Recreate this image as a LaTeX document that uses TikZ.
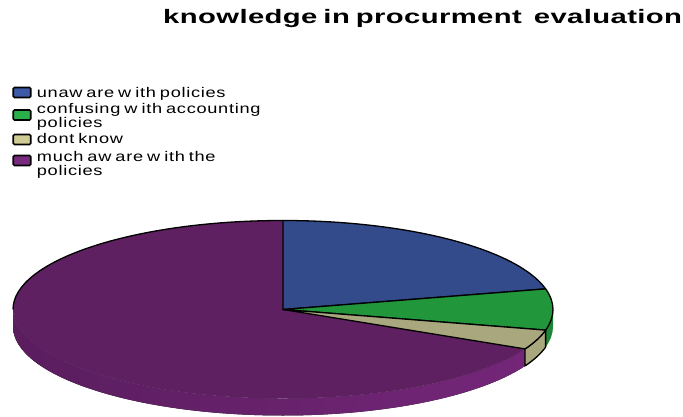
\documentclass[tikz,border=0pt]{standalone}
\usepackage{fontspec}
\setmainfont{Liberation Sans}
\newfontfamily\legfont[FakeStretch=1.3,LetterSpace=5]{Liberation Sans}
\newfontfamily\ttlfont[FakeStretch=1.5,LetterSpace=2]{Liberation Sans Bold}
\newcommand\legsetup{\legfont\fontsize{14}{12.4}\selectfont\spaceskip 4pt\relax}
\newcommand\twolines[2]{\begin{tabular}[t]{@{}l@{}}#1\\#2\end{tabular}}
\definecolor{pBlue}{HTML}{334A8B}
\definecolor{pGreen}{HTML}{22963B}
\definecolor{pGreenSide}{HTML}{1E8737}
\definecolor{pTan}{HTML}{A9A77D}
\definecolor{pPurple}{HTML}{5F2061}
\definecolor{pPurpleSide}{HTML}{742679}
\definecolor{pPurpleSideDark}{HTML}{5A1D5E}
\definecolor{lBlue}{HTML}{3C5AA8}
\definecolor{lGreen}{HTML}{2AB04A}
\definecolor{lTan}{HTML}{CFCB95}
\definecolor{lPurple}{HTML}{772A7E}
\tikzset{
  legbox/.style={draw=black, line width=1.6pt, rounded corners=1.2pt, minimum width=17.5pt, minimum height=10pt, inner sep=0pt},
  legtext/.style={anchor=base west, inner sep=0pt, font=\legsetup},
  edge/.style={draw=black, line width=1.3pt, line join=round},
}
\begin{document}
\begin{tikzpicture}[x=1pt,y=1pt]
\useasboundingbox (0,0) rectangle (683,-417);
% title
\node[anchor=base west, inner sep=0pt, font=\ttlfont\fontsize{19.5}{22}\selectfont] (title) at (163,-24)
  {knowledge\hspace{6pt}in\hspace{6pt}procurment\hspace{12pt}evaluation};
% legend
\node[legbox, fill=lBlue] (b1) at (22,-92.5) {};
\node[legtext] (t1) at (36.7,-97.3) {unaw are w ith policies};
\node[legbox, fill=lGreen] (b2) at (22,-115) {};
\node[legtext] (t2) at (36.7,-113.3) {\twolines{confusing w ith accounting}{policies}};
\node[legbox, fill=lTan] (b3) at (22,-139.5) {};
\node[legtext] (t3) at (36.7,-144) {dont know};
\node[legbox, fill=lPurple] (b4) at (22,-160.5) {};
\node[legtext] (t4) at (36.7,-161.3) {\twolines{much aw are w ith the}{policies}};
% pie
\begin{scope}[shift={(283,-309.5)}]
  % side faces
  \fill[left color=pPurpleSideDark, right color=pPurpleSide]
    (-26.3:270pt and 89pt) arc[start angle=-26.3, end angle=-180, x radius=270pt, y radius=89pt]
    -- ++(0,-17pt) arc[start angle=-180, end angle=-26.3, x radius=270pt, y radius=89pt] -- cycle;
  \fill[pGreenSide]
    (0:270pt and 89pt) arc[start angle=0, end angle=-13.4, x radius=270pt, y radius=89pt]
    -- ++(0,-17pt) arc[start angle=-13.4, end angle=0, x radius=270pt, y radius=89pt] -- cycle;
  \filldraw[fill=pTan, edge]
    (-13.4:270pt and 89pt) arc[start angle=-13.4, end angle=-26.3, x radius=270pt, y radius=89pt]
    -- ++(0,-17pt) arc[start angle=-26.3, end angle=-13.4, x radius=270pt, y radius=89pt] -- cycle;
  % top faces
  \fill[pPurple] (0,0) -- (90:270pt and 89pt)
    arc[start angle=90, end angle=333.7, x radius=270pt, y radius=89pt] -- cycle;
  \draw[edge] (90:270pt and 89pt) arc[start angle=90, end angle=180, x radius=270pt, y radius=89pt];
  \filldraw[fill=pBlue, edge] (0,0) -- (13.4:270pt and 89pt)
    arc[start angle=13.4, end angle=90, x radius=270pt, y radius=89pt] -- cycle;
  \filldraw[fill=pGreen, edge] (0,0) -- (-13.4:270pt and 89pt)
    arc[start angle=-13.4, end angle=13.4, x radius=270pt, y radius=89pt] -- cycle;
  \filldraw[fill=pTan, edge] (0,0) -- (-26.3:270pt and 89pt)
    arc[start angle=-26.3, end angle=-13.4, x radius=270pt, y radius=89pt] -- cycle;
\end{scope}
\end{tikzpicture}
\end{document}
